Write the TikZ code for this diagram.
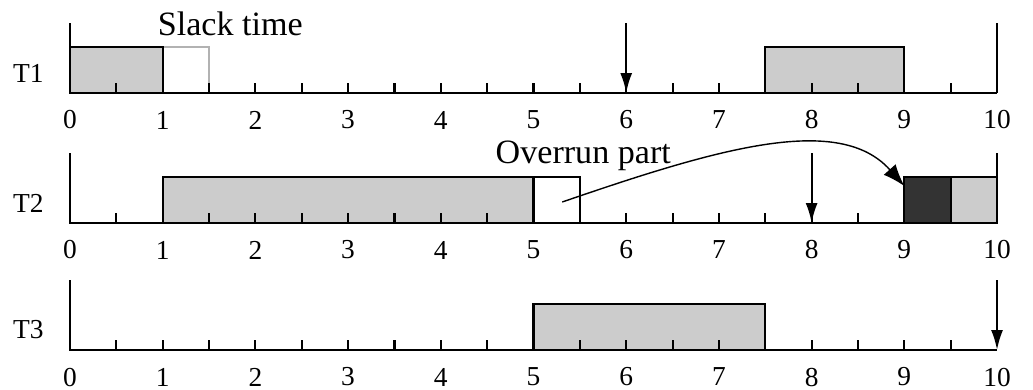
\documentclass[tikz,border=0pt]{standalone}
\usepackage{fontspec}
\setmainfont{Liberation Serif}
\usetikzlibrary{arrows.meta}

\begin{document}
\begin{tikzpicture}[x=0.927cm, y=1cm,
  ax/.style={semithick},
  job/.style={draw, semithick, fill=black!20},
  slackbox/.style={draw=black!30, semithick, fill=white},
  over/.style={draw, semithick, fill=black!80},
  dl/.style={-{Latex[length=2mm,width=1.2mm]}, semithick},
  lbl/.style={font=\fontsize{7.8}{9}\selectfont},
  ann/.style={font=\fontsize{9.7}{11}\selectfont, inner sep=0pt, anchor=base west}
]
  \useasboundingbox (-0.755,0.93) rectangle (10.388,-2.96);
  % jobs
  \draw[slackbox] (1,0) rectangle (1.5,0.46);
  \draw[job] (0,0) rectangle (1,0.46);
  \draw[job] (7.5,0) rectangle (9,0.46);
  \draw[job] (1,-1.3) rectangle (5,-0.84);
  \draw[job, fill=white] (5,-1.3) rectangle (5.5,-0.84);
  \draw[over] (9,-1.3) rectangle (9.5,-0.84);
  \draw[job] (9.5,-1.3) rectangle (10,-0.84);
  \draw[job] (5,-2.57) rectangle (7.5,-2.11);
  % time axes
  \foreach \r/\y in {1/0, 2/-1.3, 3/-2.57}{
    \draw[ax] (0,\y+0.7) -- (0,\y) -- (10,\y);
    \foreach \t in {0.5,1,...,9.5} \draw[ax] (\t,\y) -- (\t,\y+0.1);
    \foreach \n in {0,...,10} \node[lbl] (n\r\n) at (\n,\y-0.27) {\n};
    \node[lbl] (t\r) at (-0.45,\y+0.2) {T\r};
  }
  \draw[ax] (10,0.7) -- (10,0);
  \draw[ax] (10,-0.6) -- (10,-1.3);
  % deadlines
  \coordinate (d1a) at (6,0.7);   \coordinate (d1b) at (6,0);
  \coordinate (d2a) at (8,-0.6);  \coordinate (d2b) at (8,-1.3);
  \coordinate (d3a) at (10,-1.87); \coordinate (d3b) at (10,-2.57);
  \draw[dl] (d1a) -- (d1b);
  \draw[dl] (d2a) -- (d2b);
  \draw[dl] (d3a) -- (d3b);
  % annotations
  \node[ann] (slack) at (0.94,0.58) {Slack time};
  \node[ann] (ovrtxt) at (4.585,-0.7) {Overrun part};
  \coordinate (ovr) at (5.31,-1.09);
  \coordinate (ovrend) at (9,-0.93);
  \draw[-{Latex[length=2.2mm,width=1.6mm]}, thin] (ovr) .. controls (7.0,-0.55) and (8.3,-0.2) .. (ovrend);
\end{tikzpicture}
\end{document}
